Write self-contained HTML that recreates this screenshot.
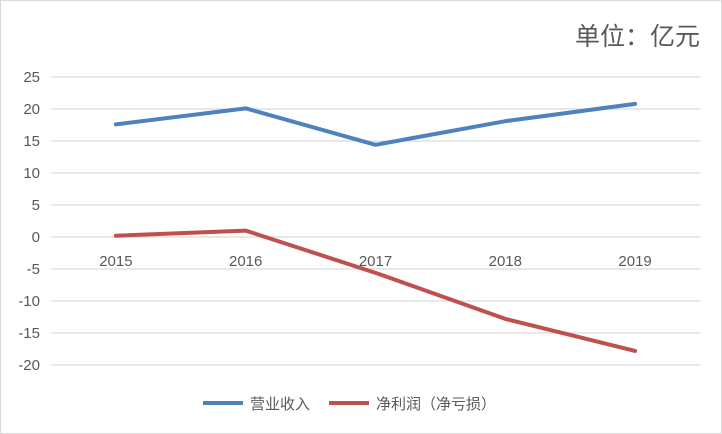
<!DOCTYPE html>
<html><head><meta charset="utf-8"><style>
body{margin:0;background:#fff}
svg{display:block;font-family:"Liberation Sans","Noto Sans CJK SC",sans-serif}
</style></head><body>
<svg id="c" width="722" height="434" viewBox="0 0 722 434">
<rect x="0.5" y="0.5" width="721" height="433" fill="#fff" stroke="#d9d9d9"/>
<text x="700" y="45" text-anchor="end" font-size="25" fill="#595959">单位：亿元</text>
<g id="grid"></g><g id="ylab"></g><g id="xlab"></g><g id="lines"></g>
<g>
<line x1="203" y1="403" x2="243" y2="403" stroke="#4f81bd" stroke-width="4"/>
<text x="250" y="409" font-size="15" fill="#595959">营业收入</text>
<line x1="329" y1="403" x2="369" y2="403" stroke="#c0504d" stroke-width="4"/>
<text x="376" y="409" font-size="15" fill="#595959">净利润（净亏损）</text>
</g>
</svg>
<script>
const categories=["2015","2016","2017","2018","2019"];
const revenue=[17.6,20.1,14.4,18.1,20.8];
const profit=[0.2,1.0,-5.6,-12.8,-17.8];
const yTicks=[25,20,15,10,5,0,-5,-10,-15,-20];
const ns="http://www.w3.org/2000/svg";
const x0=51,x1=700,y0=237,ppu=6.4;
const y=v=>y0-v*ppu;
const x=i=>x0+(x1-x0)/categories.length*(i+0.5);
function mk(t,a,p){const e=document.createElementNS(ns,t);for(const k in a)e.setAttribute(k,a[k]);document.getElementById(p).appendChild(e);return e;}
yTicks.forEach(v=>{
 const l=mk("line",{x1:x0,x2:x1,y1:y(v),y2:y(v),stroke:"#d9d9d9","stroke-width":1.3},"grid");
 
 
 const t=mk("text",{x:40,y:y(v)+5,"text-anchor":"end","font-size":15,fill:"#595959"},"ylab");
 t.textContent=v;
 
 
});
categories.forEach((c,i)=>{
 const t=mk("text",{x:x(i),y:y(0)+29,"text-anchor":"middle","font-size":15,fill:"#595959"},"xlab");
 t.textContent=c;
 
 
});
[[revenue,"#4f81bd","revenue-line"],[profit,"#c0504d","profit-line"]].forEach(([d,col,n])=>{
 const p=mk("polyline",{points:d.map((v,i)=>x(i)+","+y(v)).join(" "),fill:"none",stroke:col,"stroke-width":4,"stroke-linecap":"round","stroke-linejoin":"round"},"lines");
 
 
});
</script>
</body></html>
